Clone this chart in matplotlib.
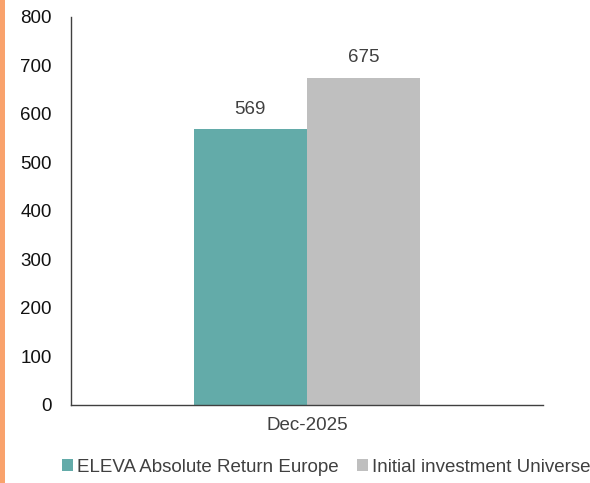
import matplotlib
matplotlib.use("Agg")
import matplotlib.pyplot as plt
from matplotlib.patches import Rectangle

plt.rcParams['font.family'] = ['Liberation Sans', 'DejaVu Sans']

categories = ['Dec-2025']
series_names = ['ELEVA Absolute Return Europe', 'Initial investment Universe']
series_values = [[569], [675]]
colors = ['#63ABA9', '#BFBFBF']
yticks = [0, 100, 200, 300, 400, 500, 600, 700, 800]

fig = plt.figure(figsize=(5.9, 4.83), dpi=100)
ax = fig.add_axes([0.1203, 0.1615, 0.7997, 0.8035])

# orange strip on the left edge
fig.patches.append(Rectangle((0, 0), 0.009, 1, transform=fig.transFigure,
                             facecolor='#F9A26C', edgecolor='none'))

width = 0.24
offsets = [-width / 2, width / 2]
for name, vals, col, off in zip(series_names, series_values, colors, offsets):
    bars = ax.bar([i + off for i in range(len(categories))], vals, width=width,
                  color=col, label=name)
    for b, v in zip(bars, vals):
        ax.annotate(f"{v}", xy=(b.get_x() + b.get_width() / 2, v),
                    xytext=(0, 8), textcoords='offset points',
                    ha='center', va='bottom', fontsize=13.5, color='#404040')

ax.set_xlim(-0.5, 0.5)
ax.set_ylim(0, 800)
ax.set_yticks(yticks)
ax.set_xticks(range(len(categories)))
ax.set_xticklabels(categories, fontsize=13.5, color='#404040')
ax.tick_params(axis='y', length=0, labelsize=13.5, labelcolor='#111111', pad=14)
ax.tick_params(axis='x', length=0, pad=9)
for s in ['top', 'right']:
    ax.spines[s].set_visible(False)
for s in ['left', 'bottom']:
    ax.spines[s].set_color('#404040')
    ax.spines[s].set_linewidth(1)

leg = fig.legend(loc='lower center', bbox_to_anchor=(0.553, -0.02), ncol=2,
                 frameon=False, fontsize=13.5, handlelength=0.6, handleheight=0.6,
                 handletextpad=0.2, columnspacing=1.0)
for t in leg.get_texts():
    t.set_color('#404040')

fig.savefig('out.png', dpi=100)
